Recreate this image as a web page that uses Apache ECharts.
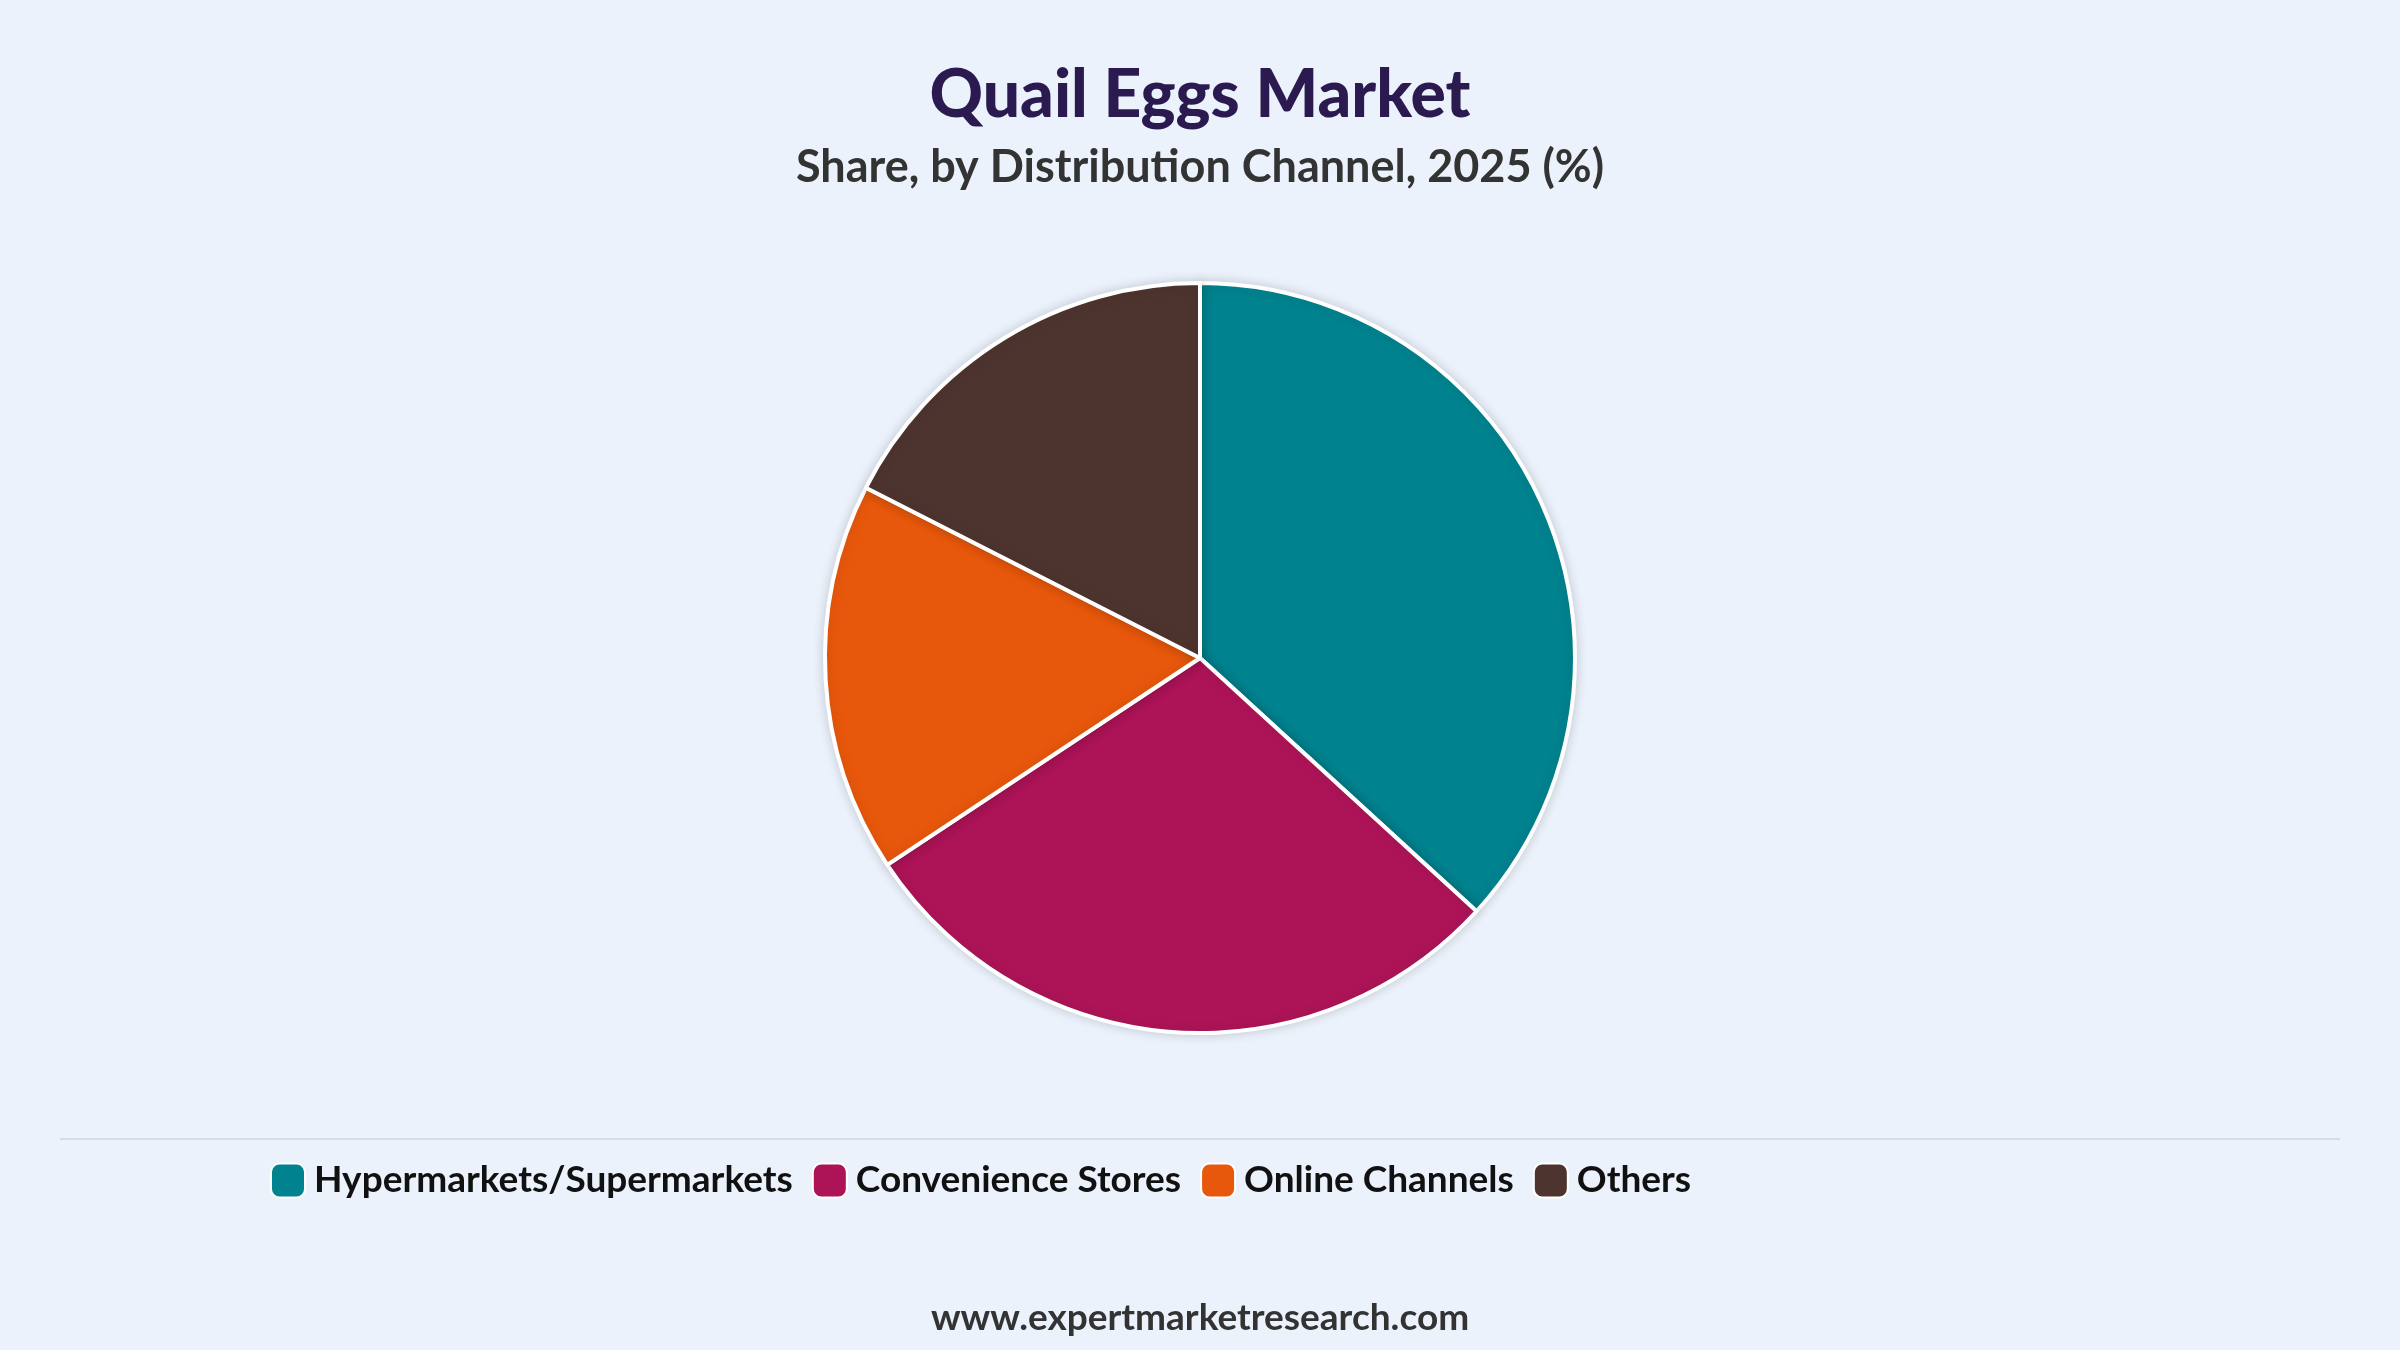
<!DOCTYPE html>
<html><head><meta charset="utf-8">
<script src="https://cdn.jsdelivr.net/npm/echarts@6/dist/echarts.min.js"></script>
<style>html,body{margin:0;padding:0;background:#EBF2FC}#c{width:2400px;height:1350px}</style>
</head><body><div id="c"></div>
<script>
const categories = ["Hypermarkets/Supermarkets","Convenience Stores","Online Channels","Others"];
const values = [36.8, 28.9, 16.8, 17.5];
const colors = ["#00838F","#AD1457","#E8580C","#4E342E"];
const chart = echarts.init(document.getElementById('c'));
chart.setOption({
  backgroundColor:'#EBF2FC',
  title:{text:'Quail Eggs Market',subtext:'Share, by Distribution Channel, 2025 (%)',left:'center',top:58,itemGap:16,
    textStyle:{fontFamily:'Lato',fontWeight:900,fontSize:66,color:'#2B1A4F'},
    subtextStyle:{fontFamily:'Lato',fontWeight:'bold',fontSize:45,color:'#333'}},
  legend:{left:265,top:1157,width:1900,itemWidth:34,itemHeight:34,itemGap:19,icon:'roundRect',
    data:categories,
    formatter:n=>'{a|'+n+'}',
    textStyle:{rich:{a:{fontFamily:'Lato',fontWeight:'bold',fontSize:37,color:'#111',width:565,padding:[0,0,0,4]}}}},
  color:colors,
  graphic:[
    {type:'line',shape:{x1:60,y1:1139,x2:2340,y2:1139},style:{stroke:'#D6DCE4',lineWidth:2}},
    {type:'text',left:'center',top:1300,style:{text:'www.expertmarketresearch.com',fontFamily:'Lato',fontWeight:'bold',fontSize:37,fill:'#333'}}
  ],
  series:[{type:'pie',center:[1200,658],radius:[0,375],startAngle:90,clockwise:true,label:{show:false},labelLine:{show:false},
    itemStyle:{borderColor:'#fff',borderWidth:4,shadowBlur:12,shadowColor:'rgba(0,0,0,0.15)'},
    emphasis:{disabled:true},
    data:categories.map((n,i)=>({name:n,value:values[i]}))}]
});
</script></body></html>
